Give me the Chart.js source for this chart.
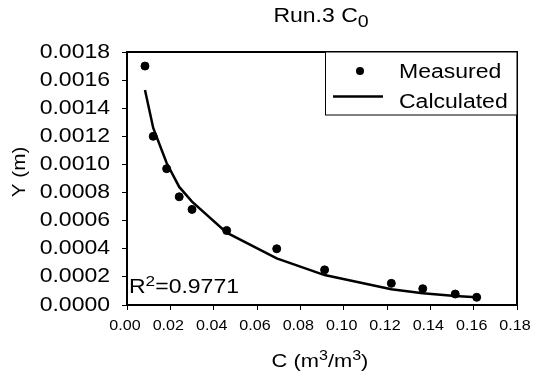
<!DOCTYPE html>
<html>
<head>
<meta charset="utf-8">
<script src="https://cdn.jsdelivr.net/npm/chart.js@4.4.0/dist/chart.umd.min.js"></script>
<style>
  html, body { margin: 0; padding: 0; background: #fff; }
  #wrap { width: 535px; height: 377px; }
</style>
</head>
<body>
<div id="wrap"><canvas id="chart"></canvas></div>
<script>
// values
var concentration = [0.0083, 0.0121, 0.0183, 0.0241, 0.0300, 0.0460, 0.0691, 0.0912, 0.1220, 0.1365, 0.1515, 0.1614];
var measured = [0.00170, 0.00120, 0.00097, 0.00077, 0.00068, 0.00053, 0.00040, 0.00025, 0.000154, 0.000116, 0.000078, 0.000055];
var calculated = [0.00153, 0.00126, 0.00101, 0.00084, 0.000735, 0.000515, 0.000332, 0.000213, 0.000112, 0.000083, 0.000064, 0.000055];
var xTicks = [0, 0.02, 0.04, 0.06, 0.08, 0.10, 0.12, 0.14, 0.16, 0.18];
var yTicks = [0, 0.0002, 0.0004, 0.0006, 0.0008, 0.0010, 0.0012, 0.0014, 0.0016, 0.0018];
var rSquared = '0.9771';

var FONT = '"Liberation Sans", Arial, sans-serif';
var SX = 1.15; // the original text is a bit wide

function pts(xs, ys) {
    return xs.map(function (x, i) { return { x: x, y: ys[i] }; });
}

// draws a run of text pieces (normal / raised / lowered) with horizontal stretch
function runText(ctx, parts, x, y, align) {
    var total = 0;
    parts.forEach(function (p) {
        ctx.font = p.size + 'px ' + FONT;
        p.w = ctx.measureText(p.t).width * SX;
        total += p.w;
    });
    var cx = x;
    if (align === 'center') cx = x - total / 2;
    if (align === 'right') cx = x - total;
    parts.forEach(function (p) {
        ctx.save();
        ctx.font = p.size + 'px ' + FONT;
        ctx.fillStyle = '#000';
        ctx.textAlign = 'left';
        ctx.textBaseline = p.base || 'alphabetic';
        ctx.translate(cx, y + (p.dy || 0));
        ctx.scale(SX, 1);
        ctx.fillText(p.t, 0, 0);
        ctx.restore();
        cx += p.w;
    });
}

var textPlugin = {
    id: 'texts',
    afterDraw: function (chart) {
        var ctx = chart.ctx;
        var a = chart.chartArea;
        var xs = chart.scales.x, ys = chart.scales.y;

        // frame round the plot
        ctx.save();
        ctx.strokeStyle = '#000';
        ctx.lineWidth = 2;
        ctx.strokeRect(a.left, a.top, a.right - a.left, a.bottom - a.top);
        ctx.restore();

        // tick labels
        yTicks.forEach(function (v) {
            runText(ctx, [{ t: v.toFixed(4), size: 20, base: 'middle' }], 110, ys.getPixelForValue(v), 'right');
        });
        xTicks.forEach(function (v) {
            runText(ctx, [{ t: v.toFixed(2), size: 14 }], xs.getPixelForValue(v) - 2, 330, 'center');
        });

        // title
        runText(ctx, [{ t: 'Run.3 C', size: 20 }, { t: '0', size: 17, dy: 5 }], 321, 22, 'center');

        // axis titles
        runText(ctx, [{ t: 'C (m', size: 19 }, { t: '3', size: 14, dy: -7 }, { t: '/m', size: 19 }, { t: '3', size: 14, dy: -7 }, { t: ')', size: 19 }], 320, 367, 'center');
        ctx.save();
        ctx.translate(25, 172);
        ctx.rotate(-Math.PI / 2);
        runText(ctx, [{ t: 'Y (m)', size: 18 }], 0, 0, 'center');
        ctx.restore();

        // R squared
        runText(ctx, [{ t: 'R', size: 20 }, { t: '2', size: 15, dy: -7 }, { t: '=' + rSquared, size: 20 }], 129, 293, 'left');

        // legend box
        ctx.save();
        ctx.fillStyle = '#fff';
        ctx.fillRect(325, a.top, a.right - 325, 63);
        ctx.strokeStyle = '#000';
        ctx.lineWidth = 1;
        ctx.strokeRect(325.5, a.top, a.right - 325.5, 63);
        ctx.fillStyle = '#000';
        ctx.beginPath();
        ctx.arc(360, 71, 4, 0, Math.PI * 2);
        ctx.fill();
        ctx.lineWidth = 2.5;
        ctx.beginPath();
        ctx.moveTo(333, 96.5);
        ctx.lineTo(383, 96.5);
        ctx.stroke();
        ctx.restore();
        runText(ctx, [{ t: 'Measured', size: 20 }], 399, 78, 'left');
        runText(ctx, [{ t: 'Calculated', size: 20 }], 399, 108, 'left');
    }
};

new Chart(document.getElementById('chart'), {
    type: 'scatter',
    data: {
        datasets: [{
            label: 'Measured',
            data: pts(concentration, measured),
            backgroundColor: '#000',
            borderColor: '#000',
            pointRadius: 4,
            pointHoverRadius: 4
        }, {
            label: 'Calculated',
            data: pts(concentration, calculated),
            showLine: true,
            borderColor: '#000',
            borderWidth: 2.5,
            pointRadius: 0,
            tension: 0
        }]
    },
    options: {
        responsive: true,
        maintainAspectRatio: false,
        animation: false,
        layout: { padding: { top: 52, right: 18, left: 0, bottom: 0 } },
        plugins: {
            legend: { display: false },
            title: { display: false },
            tooltip: { enabled: false }
        },
        scales: {
            x: {
                type: 'linear',
                min: 0,
                max: 0.18,
                afterBuildTicks: function (s) { s.ticks = xTicks.map(function (v) { return { value: v }; }); },
                afterFit: function (s) { s.height = 72; },
                ticks: { display: false },
                grid: { drawOnChartArea: false, drawTicks: true, tickLength: 5, color: '#000', lineWidth: 1 },
                border: { display: true, color: '#000', width: 2 }
            },
            y: {
                type: 'linear',
                min: 0,
                max: 0.0018,
                afterBuildTicks: function (s) { s.ticks = yTicks.map(function (v) { return { value: v }; }); },
                afterFit: function (s) { s.width = 127; },
                ticks: { display: false },
                grid: { drawOnChartArea: false, drawTicks: true, tickLength: 5, color: '#000', lineWidth: 1 },
                border: { display: true, color: '#000', width: 2 }
            }
        }
    },
    plugins: [textPlugin]
});
</script>
</body>
</html>
